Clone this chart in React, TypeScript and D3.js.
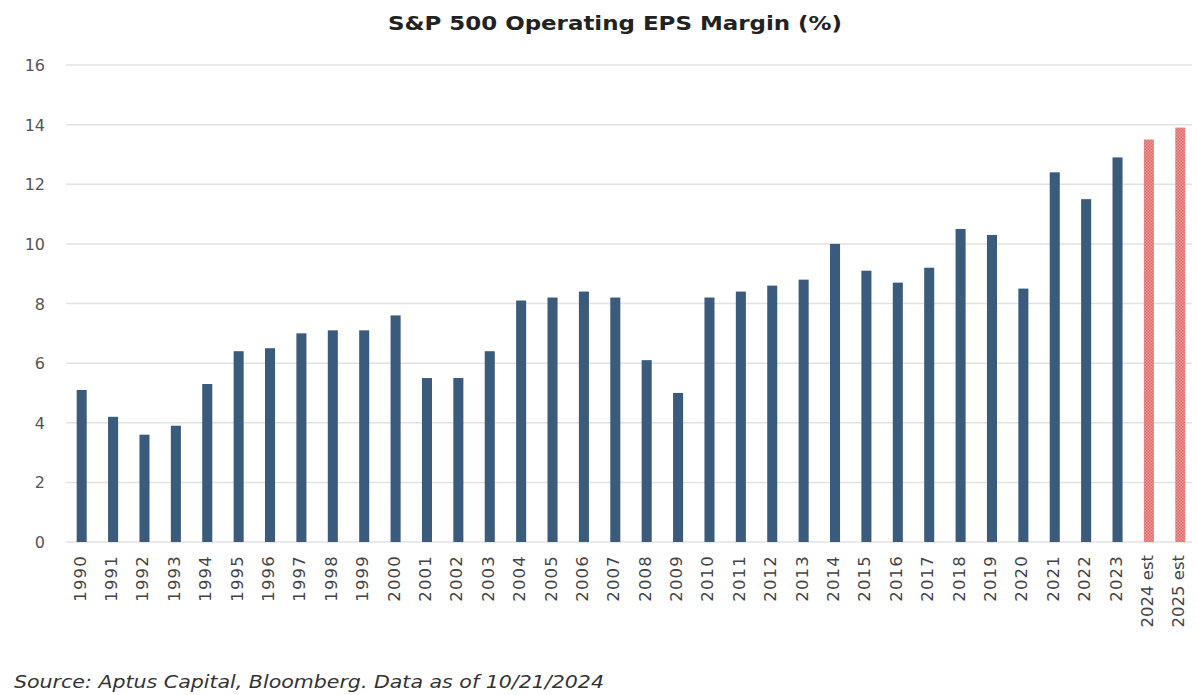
import React from "react";
import * as d3 from "d3";

const categories = [
  "1990","1991","1992","1993","1994","1995","1996","1997","1998","1999",
  "2000","2001","2002","2003","2004","2005","2006","2007","2008","2009",
  "2010","2011","2012","2013","2014","2015","2016","2017","2018","2019",
  "2020","2021","2022","2023","2024 est","2025 est",
];
const values = [
  5.1, 4.2, 3.6, 3.9, 5.3, 6.4, 6.5, 7.0, 7.1, 7.1,
  7.6, 5.5, 5.5, 6.4, 8.1, 8.2, 8.4, 8.2, 6.1, 5.0,
  8.2, 8.4, 8.6, 8.8, 10.0, 9.1, 8.7, 9.2, 10.5, 10.3,
  8.5, 12.4, 11.5, 12.9, 13.5, 13.9,
];
const estimates = ["2024 est", "2025 est"];
const yTicks = [0, 2, 4, 6, 8, 10, 12, 14, 16];

const W = 1197;
const H = 695;
const left = 66;
const right = 1196;
const top = 65;
const bottom = 542;

export default function App() {
  const x = d3.scaleBand<string>().domain(categories).range([left, right]).paddingInner(0.68).paddingOuter(0.34);
  const y = d3.scaleLinear().domain([0, 16]).range([bottom, top]);
  const bw = x.bandwidth();
  const font = "'DejaVu Sans', 'Open Sans', sans-serif";

  return (
    <svg width={W} height={H} style={{ position: "absolute", left: 0, top: 0, background: "#fff" }}>
      <defs>
        <pattern id="hatch" width="3" height="3" patternUnits="userSpaceOnUse">
          <rect width="3" height="3" fill="#e99593" />
          <rect width="1.5" height="1.5" fill="#e26f6c" />
          <rect x="1.5" y="1.5" width="1.5" height="1.5" fill="#e26f6c" />
        </pattern>
      </defs>
      <text x={388} y={30} textLength={454} lengthAdjust="spacingAndGlyphs" fontFamily="'DejaVu Sans', sans-serif" fontWeight={700} fontSize={20} fill="#222">
        S&amp;P 500 Operating EPS Margin (%)
      </text>
      {yTicks.map((t) => (
        <g key={t}>
          <line x1={left} x2={1192} y1={y(t)} y2={y(t)} stroke="#e2e2e2" strokeWidth={1.5} />
          <text x={45} y={y(t) + 6} textAnchor="end" fontFamily={font} fontSize={16} fill="#555">
            {t}
          </text>
        </g>
      ))}
      {categories.map((c, i) => {
        const est = estimates.includes(c);
        return (
          <rect
            key={c}
            x={x(c)!}
            y={y(values[i])}
            width={bw}
            height={y(0) - y(values[i])}
            fill={est ? "url(#hatch)" : "#3b5b7d"}
          />
        );
      })}
      {categories.map((c) => {
        const cx = x(c)! + bw / 2;
        return (
          <text
            key={c}
            transform={`translate(${cx + 4},${555}) rotate(-90)`}
            textAnchor="end"
            fontFamily={font}
            fontSize={16.5}
            letterSpacing={c.length === 4 ? 1.2 : 0}
            fill="#444"
          >
            {c}
          </text>
        );
      })}
      <text x={14} y={688} textLength={590} lengthAdjust="spacingAndGlyphs" fontFamily={font} fontStyle="italic" fontSize={17} fill="#333">
        Source: Aptus Capital, Bloomberg. Data as of 10/21/2024
      </text>
    </svg>
  );
}
